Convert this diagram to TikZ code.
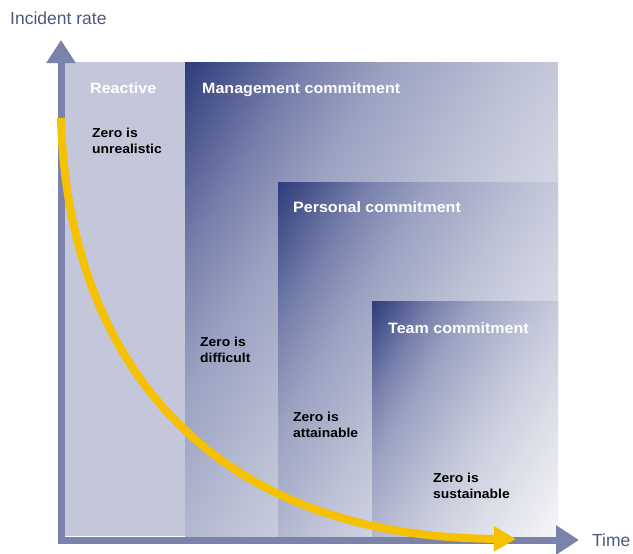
\documentclass[tikz,border=0pt]{standalone}
\usepackage{fontspec}
\setmainfont{Liberation Sans}
\newfontfamily\widesans{Liberation Sans}[FakeStretch=1.07]
\usepackage{tikz}
\usetikzlibrary{positioning}
\usetikzlibrary{arrows.meta}
\usepackage{xcolor}
\definecolor{navy}{HTML}{2C3A7B}
\definecolor{slate}{HTML}{7B83AB}
\definecolor{pale}{HTML}{C3C7D9}
\definecolor{gold}{HTML}{F5C100}
\definecolor{ink}{HTML}{50577F}
\definecolor{fadeA}{HTML}{F7F7FA}
\definecolor{fadeB}{HTML}{E0E2EA}
\definecolor{fadeC}{HTML}{CDD0DF}
\definecolor{fadeD}{HTML}{BCC1D5}
\definecolor{fadeE}{HTML}{9CA3C2}
\definecolor{fadeF}{HTML}{7780AC}
\definecolor{fadeG}{HTML}{4E598F}
\pgfdeclareverticalshading{commitfade}{100bp}{color(0bp)=(fadeA); color(15bp)=(fadeA); color(30bp)=(fadeB); color(42bp)=(fadeC); color(50bp)=(fadeD); color(63bp)=(fadeE); color(72bp)=(fadeF); color(79bp)=(fadeG); color(85bp)=(navy); color(100bp)=(navy)}
\tikzset{
	basepanel/.style = {anchor=north west, inner sep=0pt, outer sep=0pt},
	panel/.style = {basepanel, shading=commitfade, shading angle=58},
	paneltitle/.style = {text=white, font=\fontsize{15}{17}\selectfont\widesans\bfseries, inner sep=0pt},
	zeronote/.style = {text=black, font=\fontsize{13}{15.5}\selectfont\widesans\bfseries, align=left, inner sep=0pt, anchor=north west},
	axislabel/.style = {text=ink, font=\fontsize{17.5}{20}\selectfont, inner sep=0pt, anchor=west},
	axisarrow/.style = {draw=slate, line width=7pt, line cap=rect, -{Triangle[width=28pt,length=23pt]}},
	trend/.style = {draw=gold, line width=8pt, -{Triangle[width=24pt,length=22pt]}}
}

\begin{document}
\begin{tikzpicture}[x=1pt, y=-1pt]
	\useasboundingbox (0,0) rectangle (633,554);
	% stages
	\node (react) [basepanel, fill=pale, minimum width=121pt, minimum height=474pt] at (64,62) {};
	\node (mgmt) [panel, minimum width=373pt, minimum height=474pt] at (185,62) {};
	\node (pers) [panel, minimum width=280pt, minimum height=354pt] at (278,182) {};
	\node (team) [panel, minimum width=186pt, minimum height=235pt] at (372,301) {};
	
	\node (reacttitle) [paneltitle, below right=20pt and 26pt of react.north west] {Reactive};
	\node (mgmttitle) [paneltitle, below right=20pt and 17pt of mgmt.north west] {Management commitment};
	\node (perstitle) [paneltitle, below right=19pt and 15pt of pers.north west] {Personal commitment};
	\node (teamtitle) [paneltitle, below right=21pt and 16pt of team.north west] {Team commitment};
	
	\node (unreal) [zeronote] at (92,128) {Zero is\\unrealistic};
	\node (diffic) [zeronote] at (200,337) {Zero is\\difficult};
	\node (attain) [zeronote] at (293,412) {Zero is\\attainable};
	\node (sustain) [zeronote] at (433,473) {Zero is\\sustainable};
	
	% axes
	\coordinate (origin) at (61,540);
	\coordinate (ytip) at (61,40);
	\coordinate (xtip) at (579,540);
	\draw[axisarrow] (origin) -- (ytip);
	\draw[axisarrow] (origin) -- (xtip);
	\node (ylabel) [axislabel] at (10,18) {Incident rate};
	\node (xlabel) [axislabel] at (592,540) {Time};
	
	% incident curve
	\coordinate (cstart) at (61,118);
	\coordinate (cend) at (516,539);
	\draw[trend] (cstart) .. controls +(6,232) and +(-316,-2) .. (cend);
\end{tikzpicture}
\end{document}
